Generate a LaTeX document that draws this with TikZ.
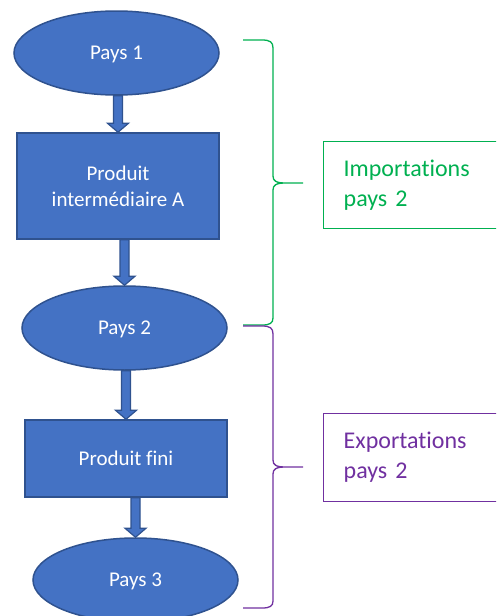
\documentclass[tikz,border=0pt]{standalone}
\usepackage{fontspec}
\setmainfont{Carlito}[Ligatures={NoCommon}]
\usetikzlibrary{shapes.geometric, calc}
\definecolor{shapeblue}{HTML}{4472C4}
\definecolor{shapeline}{HTML}{2F528F}
\definecolor{importgreen}{HTML}{00B050}
\definecolor{exportpurple}{HTML}{7030A0}

\begin{document}
\begin{tikzpicture}[x=1pt, y=-1pt]

\tikzset{country/.style = {shape=ellipse, draw=shapeline, fill=shapeblue, line width=1.5pt, minimum width=205pt, minimum height=84pt, inner sep=0pt, text=white, text depth=0pt, font=\fontsize{21}{26}\selectfont}}
\tikzset{stage/.style = {shape=rectangle, draw=shapeline, fill=shapeblue, line width=1.5pt, minimum width=202pt, inner sep=0pt, text=white, align=center, font=\fontsize{21}{26}\selectfont}}
\tikzset{blockarrow/.style = {draw=shapeline, fill=shapeblue, line width=1.2pt, line join=miter}}
\tikzset{flowbrace/.style = {draw=#1, line width=1.3pt}}
\tikzset{flowlabel/.style = {draw=#1, text=#1, line width=1.3pt, anchor=north west, text width=160pt, inner xsep=20pt, inner ysep=0pt, align=left, font=\fontsize{24}{30}\selectfont}}

\path[use as bounding box, clip] (0,0) rectangle (496,616);

%chain
\node[country] (p1) at (116.5,53) {Pays 1};
\node[stage, minimum height=106pt] (pa) at (118,186) {Produit\\intermédiaire A};
\node[country] (p2) at (124.5,328) {Pays 2};
\node[stage, minimum height=77pt] (pf) at (126,458.5) {Produit fini};
\node[country] (p3) at (135.5,580) {Pays 3};

\foreach \a/\b in {p1/pa, pa/p2, p2/pf, pf/p3}
  \draw[blockarrow] let \p1 = (\b.north), \p2 = (\a.south) in
    (\x1-4.5pt,\y2) -- (\x1-4.5pt,\y1+9pt) -- (\x1-10.5pt,\y1+9pt) -- (\x1,\y1)
    -- (\x1+10.5pt,\y1+9pt) -- (\x1+4.5pt,\y1+9pt) -- (\x1+4.5pt,\y2) -- cycle;

%braces
\draw[flowbrace=importgreen] (243,40) -- (262,40) .. controls (270,40) and (273,42) .. (273,48)
  -- (273,176) .. controls (273,181) and (276,183) .. (286,183) -- (303,183)
  (286,183) .. controls (276,183) and (273,185) .. (273,190)
  -- (273,318) .. controls (273,323) and (270,325) .. (262,325) -- (243,325);
\draw[flowbrace=exportpurple] (243,326) -- (262,326) .. controls (270,326) and (273,328) .. (273,334)
  -- (273,460) .. controls (273,465) and (276,467) .. (286,467) -- (303,467)
  (286,467) .. controls (276,467) and (273,469) .. (273,474)
  -- (273,601) .. controls (273,606) and (270,608) .. (262,608) -- (243,608);

%labels
\node[flowlabel=importgreen, minimum height=87pt] (imp) at (323,141) {Importations\\pays 2};
\node[flowlabel=exportpurple, minimum height=88pt] (exp) at (323,413) {Exportations\\pays 2};

\end{tikzpicture}
\end{document}
